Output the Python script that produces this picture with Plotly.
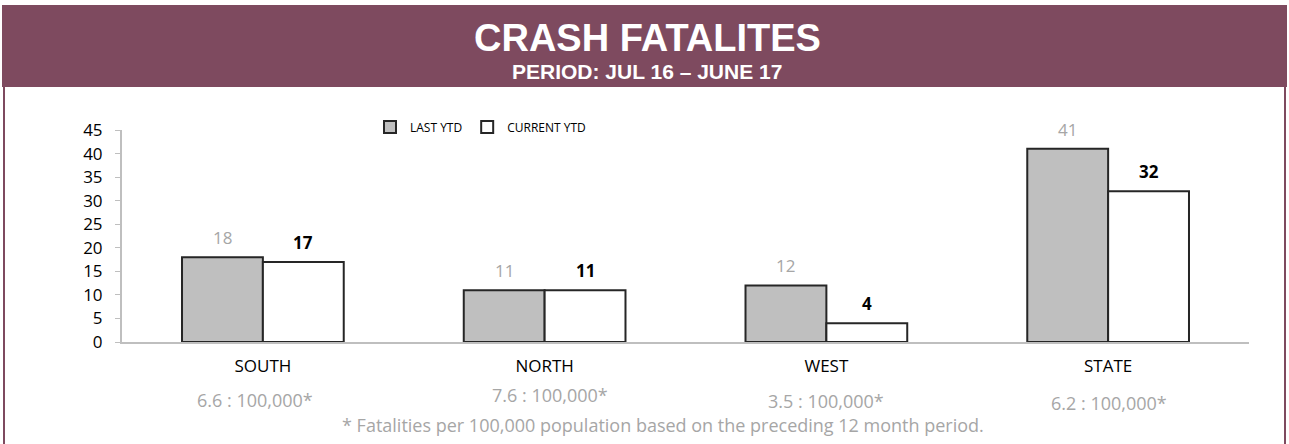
import plotly.graph_objects as go

# Regional crash fatalities, previous vs current year-to-date
regions = ["SOUTH", "NORTH", "WEST", "STATE"]
last_ytd = [18, 11, 12, 41]
current_ytd = [17, 11, 4, 32]
rates = ["6.6", "7.6", "3.5", "6.2"]
y_ticks = [0, 5, 10, 15, 20, 25, 30, 35, 40, 45]

W, H = 1289, 444
ML, MR, MT, MB = 122, 40, 130, 102
PW, PH = W - ML - MR, H - MT - MB

MAROON = "#7e4a5f"
BAR_GREY = "#bfbfbf"
TEXT_GREY = "#a6a6a6"
AXIS_GREY = "#bfbfbf"
FONT = "Open Sans"

# pixel nudges for the per-region rate captions
RATE_DX = [-8, 5, 0, 1]
RATE_DY = [-58, -53, -59, -61]


def px_x(p):
    return (p - ML) / PW


def px_y(p):
    return (H - MB - p) / PH


fig = go.Figure()
fig.add_trace(go.Bar(
    name="LAST YTD", x=regions, y=last_ytd,
    marker=dict(color=BAR_GREY, line=dict(color="#262626", width=2)),
))
fig.add_trace(go.Bar(
    name="CURRENT YTD", x=regions, y=current_ytd,
    marker=dict(color="#ffffff", line=dict(color="#262626", width=2)),
))

annotations = []
half = PW / len(regions) * (1 - 0.426) / 4
for r, v in zip(regions, last_ytd):
    annotations.append(dict(x=r, y=v, xref="x", yref="y", text=str(v), showarrow=False,
                            xshift=-half, yshift=6, yanchor="bottom",
                            font=dict(family=FONT, size=17, color=TEXT_GREY)))
for r, v in zip(regions, current_ytd):
    annotations.append(dict(x=r, y=v, xref="x", yref="y", text="<b>%d</b>" % v, showarrow=False,
                            xshift=half, yshift=6, yanchor="bottom",
                            font=dict(family=FONT, size=17, color="#000000")))
for r, rate, dx, dy in zip(regions, rates, RATE_DX, RATE_DY):
    annotations.append(dict(x=r, y=0, xref="x", yref="y", text="%s : 100,000*" % rate,
                            showarrow=False, xshift=dx, yshift=dy, yanchor="middle",
                            font=dict(family=FONT, size=18, color=TEXT_GREY)))

annotations.append(dict(x=px_x(663), y=px_y(425), xref="paper", yref="paper",
                        text="* Fatalities per 100,000 population based on the preceding 12 month period.",
                        showarrow=False, yanchor="middle",
                        font=dict(family=FONT, size=18, color=TEXT_GREY)))
annotations.append(dict(x=px_x(647), y=px_y(38), xref="paper", yref="paper",
                        text="<b>CRASH FATALITES</b>", showarrow=False, yanchor="middle",
                        font=dict(family="Liberation Sans", size=38, color="#ffffff")))
annotations.append(dict(x=px_x(647), y=px_y(72), xref="paper", yref="paper",
                        text="<b>PERIOD: JUL 16 – JUNE 17</b>", showarrow=False, yanchor="middle",
                        font=dict(family="Liberation Sans", size=21, color="#ffffff")))

shapes = [
    # header banner
    dict(type="rect", xref="paper", yref="paper", x0=px_x(2), x1=px_x(1287), y0=px_y(5), y1=px_y(87),
         fillcolor=MAROON, line=dict(width=0), layer="below"),
    # frame sides
    dict(type="line", xref="paper", yref="paper", x0=px_x(4), x1=px_x(4), y0=px_y(87), y1=px_y(H + 2),
         line=dict(color=MAROON, width=2)),
    dict(type="line", xref="paper", yref="paper", x0=px_x(1285), x1=px_x(1285), y0=px_y(87), y1=px_y(H + 2),
         line=dict(color=MAROON, width=2)),
]

fig.update_layout(
    width=W, height=H,
    margin=dict(l=ML, r=MR, t=MT, b=MB),
    paper_bgcolor="#ffffff", plot_bgcolor="#ffffff",
    barmode="group", bargap=0.426, bargroupgap=0,
    showlegend=True,
    legend=dict(orientation="h", x=px_x(370), y=px_y(127), xanchor="left", yanchor="middle",
                font=dict(family=FONT, size=12, color="#000000"),
                bgcolor="rgba(0,0,0,0)", itemwidth=30),
    annotations=annotations,
    shapes=shapes,
)
fig.update_xaxes(showline=True, linecolor=AXIS_GREY, linewidth=2, showgrid=False, ticks="",
                 tickfont=dict(family=FONT, size=17, color="#000000"), ticklabelstandoff=8)
fig.update_yaxes(range=[0, 45], tickvals=y_ticks, showline=True, linecolor=AXIS_GREY, linewidth=2,
                 showgrid=False, zeroline=False, ticks="outside", ticklen=5, tickcolor=AXIS_GREY,
                 tickfont=dict(family=FONT, size=17, color="#000000"), ticklabelstandoff=9)

fig.write_html("out.html")
